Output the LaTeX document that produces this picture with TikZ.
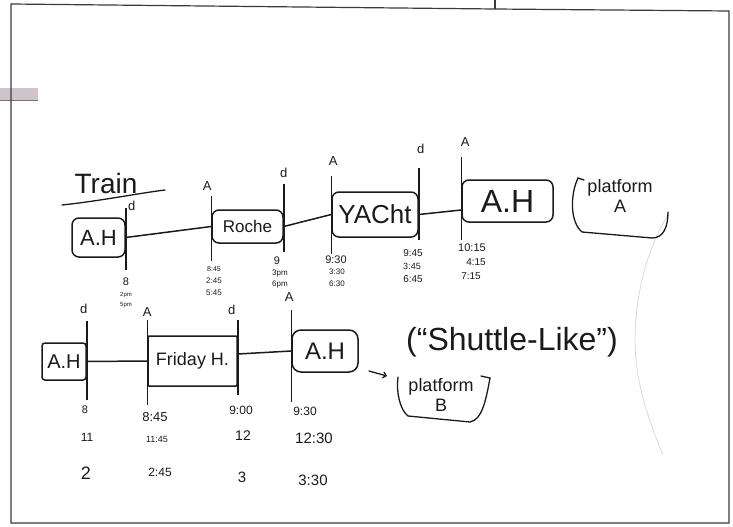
\documentclass[tikz,border=0pt]{standalone}
\usepackage{fontspec}
\setmainfont{Liberation Sans}
\usetikzlibrary{arrows.meta,calc}
\definecolor{ink}{HTML}{1A1A1A}
\definecolor{edge}{HTML}{3A3A3A}
\definecolor{faint}{HTML}{DADADA}
\definecolor{smudge}{HTML}{CFC3CC}
\newcommand{\tsz}[1]{\fontsize{#1}{#1}\selectfont}

\begin{document}
\begin{tikzpicture}[x=1pt, y=-1pt, >=Stealth,
  stn/.style={draw=ink, line width=1.5pt, rounded corners=7pt, inner sep=0pt, text=ink},
  tick/.style={draw=ink, line width=1.5pt},
  tklbl/.style={font=\tsz{13}, inner sep=0pt, text=ink},
  tm/.style={inner sep=0pt, text=ink},
  hand/.style={draw=ink, line width=1.3pt, line cap=round},
  note/.style={inner sep=0pt, text=ink, align=center}]
  \useasboundingbox (0,0) rectangle (733,527);

  % paper and frame
  \fill[smudge] (0,88) rectangle (38,100);
  \draw[edge!70] (0,100) -- (38,100);
  \draw[edge, line width=1.2pt] (11,4) -- (495,9) -- (729,11) -- (729,523) -- (11,523) -- cycle;
  \draw[edge, line width=1.2pt] (495,0) -- (495,9);
  \draw[faint, line width=0.8pt] (668,215) .. controls (640,260) and (632,320) .. (636,360)
    .. controls (640,400) and (655,435) .. (663,455);

  % title
  \node[note, font=\tsz{28}] (train) at (106,183) {Train};
  \draw[hand] (62,205) .. controls (100,201) and (140,193) .. (165,190);

  % stations, first line
  \node[stn, minimum width=53pt, minimum height=39pt, font=\tsz{22}] (ah1) at (98.5,237.5) {A.H};
  \node[stn, minimum width=71pt, minimum height=33pt, font=\tsz{17}] (roche) at (247.5,226.5) {Roche};
  \node[stn, minimum width=86pt, minimum height=45pt, font=\tsz{26}] (yacht) at (375,214.5) {YACht};
  \node[stn, minimum width=91pt, minimum height=42pt, font=\tsz{32}] (ah2) at (507.5,201) {A.H};

  % stations, second line
  \node[stn, minimum width=44pt, minimum height=37pt, rounded corners=3pt, font=\tsz{20}] (ah3) at (64,361.5) {A.H};
  \node[stn, minimum width=89pt, minimum height=50pt, rounded corners=1pt, font=\tsz{18}] (fri) at (192.5,361) {Friday H.};
  \node[stn, minimum width=66pt, minimum height=42pt, rounded corners=9pt, font=\tsz{24}] (ah4) at (325,351) {A.H};

  % track
  \draw[tick] (ah1.east) -- (roche.west);
  \draw[tick] (roche.east) -- (yacht.west);
  \draw[tick] (yacht.east) -- ([yshift=-9pt]ah2.west);
  \draw[tick] (ah3.east) -- (fri.west);
  \draw[tick] ([yshift=7pt]fri.east) -- (ah4.west);

  % arrive / depart ticks
  \foreach \a/\t/\b/\l/\dx/\ly [count=\i] in {ah1.east/208/270/d/6/206, roche.west/196/261/A/-4/186,
      roche.east/184/252/d/0/173, yacht.west/176/254/A/2/161, yacht.east/168/240/d/2/149,
      ah2.west/157/240/A/4/142, ah3.east/321/400/d/-3/309, fri.west/320/405/A/0/312,
      fri.east/320/395/d/-6/310, ah4.west/310/402/A/-2/297}
  {
    \draw[tick] (\a |- 0,\t) -- (\a |- 0,\b);
    \node[tklbl, xshift=\dx pt] (lb\i) at (\a |- 0,\ly) {\l};
  }

  % times
  \foreach \x/\y/\s/\t [count=\i] in {126/282/11/8, 126/295/6/2pm, 126/305/6/5pm,
      214/269/7/8:45, 214/281/8/2:45, 214/293/8/5:45,
      277/261/11/9, 280/274/8/3pm, 280/285/8/6pm,
      336/260/11/9:30, 337/272/8/3:30, 337/284/8/6:30,
      413/253/10/9:45, 412/266/9/3:45, 413/279/10/6:45,
      472/248/11/10:15, 476/262/10/4:15, 471/276/10/7:15,
      85/410/11/8, 87/437/12/11, 86/473/18/2,
      155/417/13/8:45, 157/439/9/11:45, 160/472/12/2:45,
      241/410/12/9:00, 243/436/14/12, 242/477/15/3,
      305/411/12/9:30, 314/438/15/12:30, 313/480/15/3:30}
  {
    \node[tm, font=\tsz{\s}] (tm\i) at (\x,\y) {\t};
  }

  % notes
  \node[note, font=\tsz{32}] (shuttle) at (512,342) {(“Shuttle-Like”)};
  \node[note, font=\fontsize{18}{20}\selectfont] (plA) at (620,196) {platform\\A};
  \draw[hand] (584,180) -- (578,178) .. controls (570,195) and (570,222) .. (582,232)
    -- (652,238) .. controls (664,238) and (668,226) .. (668,212);
  \node[note, font=\fontsize{18}{20}\selectfont] (plB) at (441,395) {platform\\B};
  \draw[hand] (398,377) .. controls (396,392) and (400,410) .. (408,416)
    -- (470,422) .. controls (482,420) and (486,400) .. (490,378) -- (481,376);
  \coordinate (arS) at (369,371);
  \coordinate (arE) at (387,376);
  \draw[hand, -{Straight Barb[length=3pt]}] (arS) -- (arE);
\end{tikzpicture}
\end{document}
